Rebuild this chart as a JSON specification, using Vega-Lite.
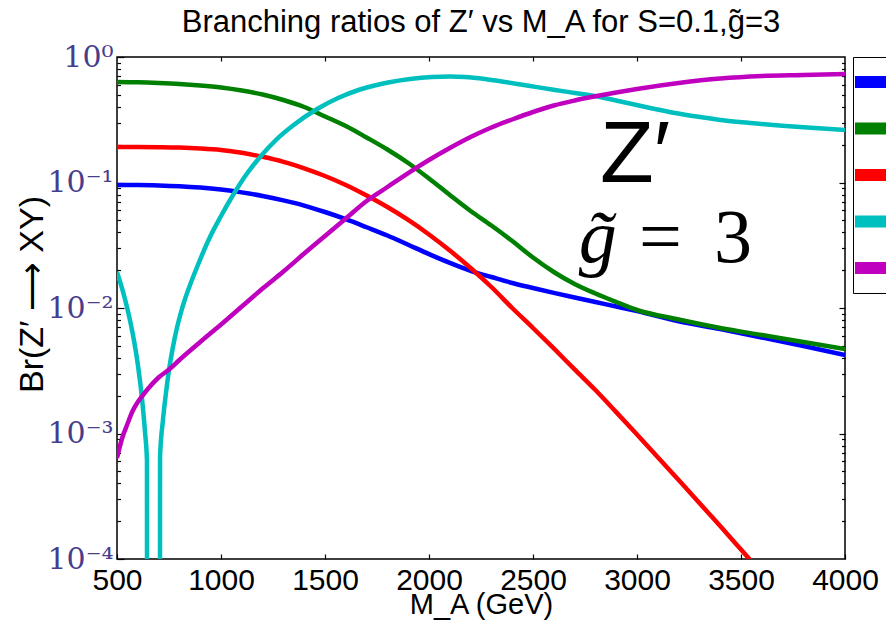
{
  "$schema": "https://vega.github.io/schema/vega-lite/v6.json",
  "width": 728,
  "height": 502,
  "autosize": "none",
  "padding": {"left": 117, "top": 57, "right": 41, "bottom": 67},
  "title": {
    "text": "Branching ratios of Z′ vs M_A for S=0.1,g̃=3",
    "font": "Liberation Sans",
    "fontSize": 31,
    "fontWeight": "normal",
    "color": "black",
    "anchor": "middle",
    "frame": "group",
    "offset": 3
  },
  "config": {
    "view": {"stroke": "black", "strokeWidth": 1.5},
    "axis": {"grid": false, "domain": false, "tickColor": "black", "tickWidth": 1.2, "labelFlush": false, "labelOverlap": false}
  },
  "data": {
    "values": [
      {"ch": "Zh", "m": 500, "br": 0.0955},
      {"ch": "Zh", "m": 600, "br": 0.0955},
      {"ch": "Zh", "m": 700, "br": 0.0948},
      {"ch": "Zh", "m": 800, "br": 0.0934},
      {"ch": "Zh", "m": 900, "br": 0.0911},
      {"ch": "Zh", "m": 1000, "br": 0.0878},
      {"ch": "Zh", "m": 1100, "br": 0.0834},
      {"ch": "Zh", "m": 1200, "br": 0.0781},
      {"ch": "Zh", "m": 1300, "br": 0.072},
      {"ch": "Zh", "m": 1400, "br": 0.0655},
      {"ch": "Zh", "m": 1500, "br": 0.0582},
      {"ch": "Zh", "m": 1600, "br": 0.051},
      {"ch": "Zh", "m": 1700, "br": 0.044},
      {"ch": "Zh", "m": 1800, "br": 0.0378},
      {"ch": "Zh", "m": 1900, "br": 0.0319},
      {"ch": "Zh", "m": 2000, "br": 0.0269},
      {"ch": "Zh", "m": 2100, "br": 0.0229},
      {"ch": "Zh", "m": 2200, "br": 0.0198},
      {"ch": "Zh", "m": 2300, "br": 0.01766},
      {"ch": "Zh", "m": 2400, "br": 0.01582},
      {"ch": "Zh", "m": 2500, "br": 0.01443},
      {"ch": "Zh", "m": 2600, "br": 0.01321},
      {"ch": "Zh", "m": 2700, "br": 0.01213},
      {"ch": "Zh", "m": 2800, "br": 0.01116},
      {"ch": "Zh", "m": 2900, "br": 0.01028},
      {"ch": "Zh", "m": 3000, "br": 0.00946},
      {"ch": "Zh", "m": 3200, "br": 0.00784},
      {"ch": "Zh", "m": 3400, "br": 0.0068},
      {"ch": "Zh", "m": 3600, "br": 0.00582},
      {"ch": "Zh", "m": 3800, "br": 0.00498},
      {"ch": "Zh", "m": 4000, "br": 0.00422},

      {"ch": "W⁺W⁻", "m": 500, "br": 0.6322},
      {"ch": "W⁺W⁻", "m": 600, "br": 0.6287},
      {"ch": "W⁺W⁻", "m": 700, "br": 0.6206},
      {"ch": "W⁺W⁻", "m": 800, "br": 0.6094},
      {"ch": "W⁺W⁻", "m": 900, "br": 0.5929},
      {"ch": "W⁺W⁻", "m": 1000, "br": 0.5714},
      {"ch": "W⁺W⁻", "m": 1100, "br": 0.5408},
      {"ch": "W⁺W⁻", "m": 1200, "br": 0.5027},
      {"ch": "W⁺W⁻", "m": 1300, "br": 0.4543},
      {"ch": "W⁺W⁻", "m": 1400, "br": 0.3996},
      {"ch": "W⁺W⁻", "m": 1500, "br": 0.3357},
      {"ch": "W⁺W⁻", "m": 1600, "br": 0.2819},
      {"ch": "W⁺W⁻", "m": 1700, "br": 0.2284},
      {"ch": "W⁺W⁻", "m": 1800, "br": 0.1832},
      {"ch": "W⁺W⁻", "m": 1900, "br": 0.143},
      {"ch": "W⁺W⁻", "m": 2000, "br": 0.1076},
      {"ch": "W⁺W⁻", "m": 2100, "br": 0.0795},
      {"ch": "W⁺W⁻", "m": 2200, "br": 0.0593},
      {"ch": "W⁺W⁻", "m": 2300, "br": 0.0454},
      {"ch": "W⁺W⁻", "m": 2400, "br": 0.0342},
      {"ch": "W⁺W⁻", "m": 2500, "br": 0.02526},
      {"ch": "W⁺W⁻", "m": 2600, "br": 0.01936},
      {"ch": "W⁺W⁻", "m": 2700, "br": 0.01553},
      {"ch": "W⁺W⁻", "m": 2800, "br": 0.01304},
      {"ch": "W⁺W⁻", "m": 2900, "br": 0.01116},
      {"ch": "W⁺W⁻", "m": 3000, "br": 0.00964},
      {"ch": "W⁺W⁻", "m": 3200, "br": 0.0081},
      {"ch": "W⁺W⁻", "m": 3400, "br": 0.00693},
      {"ch": "W⁺W⁻", "m": 3600, "br": 0.00609},
      {"ch": "W⁺W⁻", "m": 3800, "br": 0.00536},
      {"ch": "W⁺W⁻", "m": 4000, "br": 0.00471},

      {"ch": "ff̄", "m": 500, "br": 0.1918},
      {"ch": "ff̄", "m": 600, "br": 0.1918},
      {"ch": "ff̄", "m": 700, "br": 0.1911},
      {"ch": "ff̄", "m": 800, "br": 0.1897},
      {"ch": "ff̄", "m": 900, "br": 0.1866},
      {"ch": "ff̄", "m": 1000, "br": 0.1815},
      {"ch": "ff̄", "m": 1100, "br": 0.1724},
      {"ch": "ff̄", "m": 1200, "br": 0.1602},
      {"ch": "ff̄", "m": 1300, "br": 0.1462},
      {"ch": "ff̄", "m": 1400, "br": 0.1297},
      {"ch": "ff̄", "m": 1500, "br": 0.1127},
      {"ch": "ff̄", "m": 1600, "br": 0.0955},
      {"ch": "ff̄", "m": 1700, "br": 0.0788},
      {"ch": "ff̄", "m": 1800, "br": 0.0638},
      {"ch": "ff̄", "m": 1900, "br": 0.0503},
      {"ch": "ff̄", "m": 2000, "br": 0.0385},
      {"ch": "ff̄", "m": 2100, "br": 0.0287},
      {"ch": "ff̄", "m": 2200, "br": 0.02084},
      {"ch": "ff̄", "m": 2300, "br": 0.0147},
      {"ch": "ff̄", "m": 2400, "br": 0.01},
      {"ch": "ff̄", "m": 2500, "br": 0.00693},
      {"ch": "ff̄", "m": 2600, "br": 0.00476},
      {"ch": "ff̄", "m": 2700, "br": 0.00324},
      {"ch": "ff̄", "m": 2800, "br": 0.00222},
      {"ch": "ff̄", "m": 2900, "br": 0.00148},
      {"ch": "ff̄", "m": 3000, "br": 0.000982},
      {"ch": "ff̄", "m": 3200, "br": 0.000426},
      {"ch": "ff̄", "m": 3400, "br": 0.000183},
      {"ch": "ff̄", "m": 3500, "br": 0.000119},
      {"ch": "ff̄", "m": 3600, "br": 0.0000773},

      {"ch": "ZA", "m": 500, "br": 0.01936},
      {"ch": "ZA", "m": 525, "br": 0.01422},
      {"ch": "ZA", "m": 550, "br": 0.00988},
      {"ch": "ZA", "m": 575, "br": 0.00632},
      {"ch": "ZA", "m": 600, "br": 0.003556},
      {"ch": "ZA", "m": 620, "br": 0.001912},
      {"ch": "ZA", "m": 635, "br": 0.001011},
      {"ch": "ZA", "m": 644, "br": 0.000608},
      {"ch": "ZA", "m": 645, "br": 0.0000001},
      {"ch": "ZA", "m": 675, "br": 0.0000001},
      {"ch": "ZA", "m": 706, "br": 0.0000001},
      {"ch": "ZA", "m": 707, "br": 0.00065},
      {"ch": "ZA", "m": 721, "br": 0.001281},
      {"ch": "ZA", "m": 736, "br": 0.002141},
      {"ch": "ZA", "m": 750, "br": 0.003206},
      {"ch": "ZA", "m": 769, "br": 0.004889},
      {"ch": "ZA", "m": 788, "br": 0.006928},
      {"ch": "ZA", "m": 808, "br": 0.009292},
      {"ch": "ZA", "m": 827, "br": 0.0118},
      {"ch": "ZA", "m": 851, "br": 0.01525},
      {"ch": "ZA", "m": 885, "br": 0.02122},
      {"ch": "ZA", "m": 947, "br": 0.03679},
      {"ch": "ZA", "m": 1000, "br": 0.05406},
      {"ch": "ZA", "m": 1058, "br": 0.07949},
      {"ch": "ZA", "m": 1120, "br": 0.1148},
      {"ch": "ZA", "m": 1188, "br": 0.1597},
      {"ch": "ZA", "m": 1264, "br": 0.2181},
      {"ch": "ZA", "m": 1346, "br": 0.2845},
      {"ch": "ZA", "m": 1462, "br": 0.3852},
      {"ch": "ZA", "m": 1563, "br": 0.4713},
      {"ch": "ZA", "m": 1668, "br": 0.5508},
      {"ch": "ZA", "m": 1803, "br": 0.6264},
      {"ch": "ZA", "m": 1909, "br": 0.6679},
      {"ch": "ZA", "m": 2014, "br": 0.693},
      {"ch": "ZA", "m": 2101, "br": 0.6994},
      {"ch": "ZA", "m": 2173, "br": 0.693},
      {"ch": "ZA", "m": 2269, "br": 0.6679},
      {"ch": "ZA", "m": 2366, "br": 0.6322},
      {"ch": "ZA", "m": 2486, "br": 0.5872},
      {"ch": "ZA", "m": 2606, "br": 0.5459},
      {"ch": "ZA", "m": 2717, "br": 0.512},
      {"ch": "ZA", "m": 2822, "br": 0.4799},
      {"ch": "ZA", "m": 2943, "br": 0.434},
      {"ch": "ZA", "m": 3063, "br": 0.3924},
      {"ch": "ZA", "m": 3183, "br": 0.3579},
      {"ch": "ZA", "m": 3304, "br": 0.3325},
      {"ch": "ZA", "m": 3423, "br": 0.3119},
      {"ch": "ZA", "m": 3544, "br": 0.2979},
      {"ch": "ZA", "m": 3784, "br": 0.2768},
      {"ch": "ZA", "m": 4000, "br": 0.262},

      {"ch": "hA", "m": 500, "br": 0.000638},
      {"ch": "hA", "m": 525, "br": 0.000921},
      {"ch": "hA", "m": 550, "br": 0.00119},
      {"ch": "hA", "m": 575, "br": 0.00151},
      {"ch": "hA", "m": 600, "br": 0.00178},
      {"ch": "hA", "m": 625, "br": 0.002026},
      {"ch": "hA", "m": 650, "br": 0.002284},
      {"ch": "hA", "m": 700, "br": 0.002794},
      {"ch": "hA", "m": 750, "br": 0.003236},
      {"ch": "hA", "m": 800, "br": 0.003852},
      {"ch": "hA", "m": 900, "br": 0.005359},
      {"ch": "hA", "m": 1000, "br": 0.007386},
      {"ch": "hA", "m": 1100, "br": 0.01028},
      {"ch": "hA", "m": 1200, "br": 0.01429},
      {"ch": "hA", "m": 1300, "br": 0.01953},
      {"ch": "hA", "m": 1400, "br": 0.02718},
      {"ch": "hA", "m": 1500, "br": 0.03747},
      {"ch": "hA", "m": 1600, "br": 0.05165},
      {"ch": "hA", "m": 1700, "br": 0.07121},
      {"ch": "hA", "m": 1800, "br": 0.09207},
      {"ch": "hA", "m": 1900, "br": 0.119},
      {"ch": "hA", "m": 2000, "br": 0.1511},
      {"ch": "hA", "m": 2100, "br": 0.1883},
      {"ch": "hA", "m": 2200, "br": 0.2304},
      {"ch": "hA", "m": 2300, "br": 0.2743},
      {"ch": "hA", "m": 2400, "br": 0.3177},
      {"ch": "hA", "m": 2500, "br": 0.3645},
      {"ch": "hA", "m": 2600, "br": 0.4108},
      {"ch": "hA", "m": 2700, "br": 0.45},
      {"ch": "hA", "m": 2800, "br": 0.4862},
      {"ch": "hA", "m": 2900, "br": 0.5214},
      {"ch": "hA", "m": 3000, "br": 0.5559},
      {"ch": "hA", "m": 3200, "br": 0.6206},
      {"ch": "hA", "m": 3400, "br": 0.6742},
      {"ch": "hA", "m": 3600, "br": 0.7057},
      {"ch": "hA", "m": 3800, "br": 0.7188},
      {"ch": "hA", "m": 4000, "br": 0.7321}
    ]
  },
  "layer": [
    {
      "mark": {"type": "line", "strokeWidth": 4.5, "clip": true, "interpolate": "monotone"},
      "encoding": {
        "x": {
          "field": "m", "type": "quantitative",
          "scale": {"domain": [500, 4000], "nice": false, "zero": false},
          "axis": {
            "orient": "bottom",
            "values": [500, 1000, 1500, 2000, 2500, 3000, 3500, 4000],
            "format": "d",
            "labelFont": "Liberation Sans", "labelFontSize": 30, "labelColor": "black",
            "tickSize": -5, "labelPadding": 11,
            "title": "M_A (GeV)", "titleFont": "Liberation Sans", "titleFontSize": 29,
            "titleFontWeight": "normal", "titleColor": "black",
            "titleY": 54, "titleBaseline": "alphabetic"
          }
        },
        "y": {
          "field": "br", "type": "quantitative",
          "scale": {"type": "log", "domain": [0.0001, 1], "nice": false},
          "axis": {
            "orient": "left",
            "values": [0.0001, 0.001, 0.01, 0.1, 1],
            "labelExpr": "['10⁰','10⁻¹','10⁻²','10⁻³','10⁻⁴'][round(-log(datum.value)/LN10)]",
            "labelFont": "DejaVu Serif", "labelFontSize": 30, "labelColor": "#483d8b",
            "tickSize": -7, "labelPadding": 11,
            "title": "Br(Z′ ⟶ XY)", "titleFont": "Liberation Sans", "titleFontSize": 34,
            "titleFontWeight": "normal", "titleColor": "black",
            "titleAngle": -90, "titleX": -75, "titleY": 237, "titleBaseline": "alphabetic", "titleAlign": "center"
          }
        },
        "color": {
          "field": "ch", "type": "nominal",
          "scale": {
            "domain": ["Zh", "W⁺W⁻", "ff̄", "ZA", "hA"],
            "range": ["#0000ff", "#008000", "#ff0000", "#00bfbf", "#bf00bf"]
          },
          "legend": {
            "orient": "none", "legendX": 736, "legendY": 0,
            "title": null, "symbolType": "stroke", "symbolStrokeWidth": 12, "symbolSize": 1600,
            "symbolOffset": -6,
            "strokeColor": "black", "padding": 2, "clipHeight": 46, "rowPadding": 0.5,
            "labelFontSize": 22, "labelFont": "Liberation Sans", "labelOffset": 8
          }
        }
      }
    },
    {
      "mark": {"type": "point", "opacity": 0},
      "encoding": {
        "x": {
          "field": "m", "type": "quantitative",
          "scale": {"domain": [500, 4000], "nice": false, "zero": false},
          "axis": {"orient": "top", "values": [1000, 1500, 2000, 2500, 3000, 3500], "labels": false, "tickSize": -4, "title": null}
        },
        "y": {
          "field": "br", "type": "quantitative",
          "scale": {"type": "log", "domain": [0.0001, 1], "nice": false},
          "axis": {"orient": "right", "values": [0.001, 0.01, 0.1], "labels": false, "tickSize": -6, "title": null}
        }
      }
    },
    {
      "mark": {"type": "point", "opacity": 0},
      "encoding": {
        "x": {"field": "m", "type": "quantitative", "scale": {"domain": [500, 4000], "nice": false, "zero": false}, "axis": null},
        "y": {
          "field": "br", "type": "quantitative",
          "scale": {"type": "log", "domain": [0.0001, 1], "nice": false},
          "axis": {"orient": "left", "labels": false, "tickSize": -3.5, "title": null,
            "values": [0.0002, 0.0003, 0.0004, 0.0005, 0.0006, 0.0007, 0.0008, 0.0009, 0.002, 0.003, 0.004, 0.005, 0.006, 0.007, 0.008, 0.009, 0.02, 0.03, 0.04, 0.05, 0.06, 0.07, 0.08, 0.09, 0.2, 0.3, 0.4, 0.5, 0.6, 0.7, 0.8, 0.9]}
        }
      }
    },
    {
      "mark": {"type": "point", "opacity": 0},
      "encoding": {
        "x": {"field": "m", "type": "quantitative", "scale": {"domain": [500, 4000], "nice": false, "zero": false}, "axis": null},
        "y": {
          "field": "br", "type": "quantitative",
          "scale": {"type": "log", "domain": [0.0001, 1], "nice": false},
          "axis": {"orient": "right", "labels": false, "tickSize": -3.5, "title": null,
            "values": [0.0002, 0.0003, 0.0004, 0.0005, 0.0006, 0.0007, 0.0008, 0.0009, 0.002, 0.003, 0.004, 0.005, 0.006, 0.007, 0.008, 0.009, 0.02, 0.03, 0.04, 0.05, 0.06, 0.07, 0.08, 0.09, 0.2, 0.3, 0.4, 0.5, 0.6, 0.7, 0.8, 0.9]}
        }
      }
    },
    {
      "data": {"values": [{"x": 2822, "y": 0.1008, "t": "Z′"}]},
      "mark": {"type": "text", "font": "Liberation Sans", "fontSize": 88, "align": "left", "baseline": "alphabetic", "color": "black"},
      "encoding": {
        "x": {"field": "x", "type": "quantitative", "scale": {"domain": [500, 4000], "nice": false, "zero": false}, "axis": null},
        "y": {"field": "y", "type": "quantitative", "scale": {"type": "log", "domain": [0.0001, 1], "nice": false}, "axis": null},
        "text": {"field": "t"}
      }
    },
    {
      "data": {"values": [{"x": 2720, "y": 0.02325, "t": "g̃"}]},
      "mark": {"type": "text", "font": "Liberation Serif", "fontSize": 76, "fontStyle": "italic", "align": "left", "baseline": "alphabetic", "color": "black"},
      "encoding": {
        "x": {"field": "x", "type": "quantitative", "scale": {"domain": [500, 4000], "nice": false, "zero": false}, "axis": null},
        "y": {"field": "y", "type": "quantitative", "scale": {"type": "log", "domain": [0.0001, 1], "nice": false}, "axis": null},
        "text": {"field": "t"}
      }
    },
    {
      "data": {"values": [{"x": 3010, "y": 0.02325, "t": "="}, {"x": 3370, "y": 0.02325, "t": "3"}]},
      "mark": {"type": "text", "font": "Liberation Serif", "fontSize": 76, "align": "left", "baseline": "alphabetic", "color": "black"},
      "encoding": {
        "x": {"field": "x", "type": "quantitative", "scale": {"domain": [500, 4000], "nice": false, "zero": false}, "axis": null},
        "y": {"field": "y", "type": "quantitative", "scale": {"type": "log", "domain": [0.0001, 1], "nice": false}, "axis": null},
        "text": {"field": "t"}
      }
    }
  ],
  "resolve": {"axis": {"x": "independent", "y": "independent"}}
}
